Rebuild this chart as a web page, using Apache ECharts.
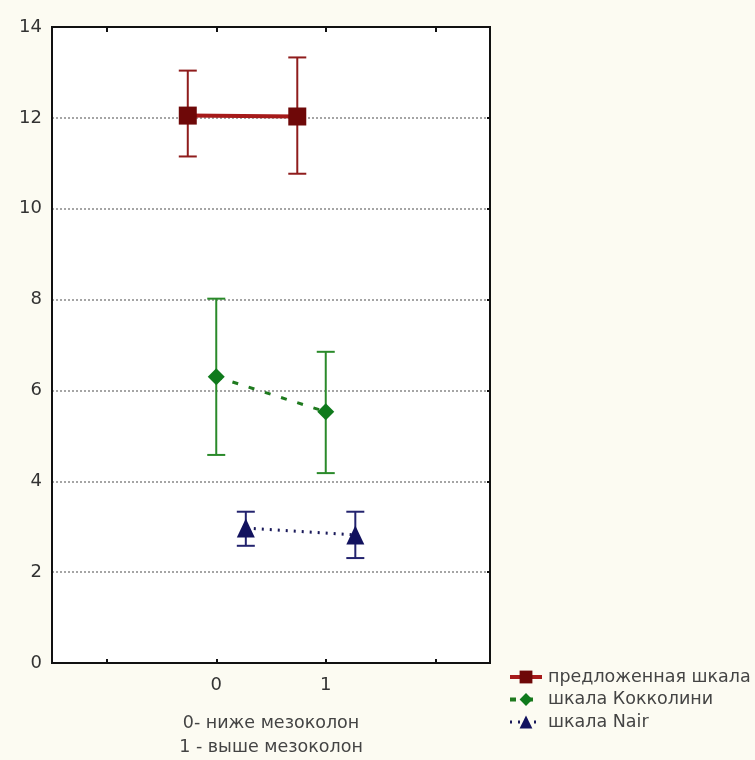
<!DOCTYPE html>
<html lang="ru">
<head>
<meta charset="UTF-8">
<title>шкалы</title>
<script src="https://cdn.jsdelivr.net/npm/echarts@6/dist/echarts.min.js"></script>
<style>
  html, body { margin: 0; padding: 0; background: #fcfbf2; }
  #chart { width: 755px; height: 760px; }
</style>
</head>
<body>
<div id="chart"></div>
<script>
// данные
var seriesNames = ['предложенная шкала', 'шкала Кокколини', 'шкала Nair'];
var xTicks = [-1, 0, 1, 2];
var xLabels = [0, 1];

var redX = [-0.26, 0.74];
var redMean = [12.05, 12.03];
var redLow = [11.15, 10.77];
var redHigh = [13.04, 13.33];

var greenX = [0, 1];
var greenMean = [6.30, 5.53];
var greenLow = [4.58, 4.18];
var greenHigh = [8.02, 6.85];

var blueX = [0.27, 1.27];
var blueMean = [2.97, 2.82];
var blueLow = [2.58, 2.31];
var blueHigh = [3.33, 3.33];

var font = 'DejaVu Sans';

function pts(xs, ys) {
    return xs.map(function (x, i) { return [x, ys[i]]; });
}
function bars(xs, lo, hi) {
    return xs.map(function (x, i) { return [x, lo[i], hi[i]]; });
}

// усы ошибок
function errorSeries(data, color) {
    return {
        type: 'custom',
        z: 1,
        data: data,
        renderItem: function (params, api) {
            var x = api.value(0);
            var top = api.coord([x, api.value(2)]);
            var bot = api.coord([x, api.value(1)]);
            var w = 9;
            var st = { stroke: color, lineWidth: 2 };
            return {
                type: 'group',
                children: [
                    { type: 'line', shape: { x1: top[0], y1: top[1], x2: bot[0], y2: bot[1] }, style: st },
                    { type: 'line', shape: { x1: top[0] - w, y1: top[1], x2: top[0] + w, y2: top[1] }, style: st },
                    { type: 'line', shape: { x1: bot[0] - w, y1: bot[1], x2: bot[0] + w, y2: bot[1] }, style: st }
                ]
            };
        }
    };
}

var myChart = echarts.init(document.getElementById('chart'));

myChart.setOption({
    backgroundColor: '#fcfbf2',
    animation: false,
    textStyle: { fontFamily: font },
    grid: {
        left: 52, right: 265, top: 27, bottom: 97,
        outerBoundsMode: 'none', containLabel: false,
        show: true, backgroundColor: '#ffffff', borderColor: '#111', borderWidth: 2
    },
    legend: {
        orient: 'vertical',
        left: 503, top: 663,
        itemWidth: 32, itemHeight: 16, itemGap: 4.5,
        textStyle: { fontSize: 17.5, color: '#444', fontFamily: font, padding: [0, 0, 0, 1] },
        data: [
            { name: seriesNames[0], lineStyle: { width: 4 } },
            { name: seriesNames[1], lineStyle: { width: 4 } },
            { name: seriesNames[2], lineStyle: { width: 3 } }
        ]
    },
    xAxis: [{
        type: 'value', min: -1.5, max: 2.5,
        position: 'bottom',
        name: '0- ниже мезоколон\n1 - выше мезоколон',
        nameLocation: 'middle', nameGap: 48,
        nameTextStyle: { fontSize: 17.5, color: '#444', lineHeight: 24, fontFamily: font },
        axisLine: { onZero: false, lineStyle: { color: '#111', width: 2 } },
        axisTick: { inside: true, length: 4, customValues: xTicks, lineStyle: { color: '#111', width: 2 } },
        axisLabel: { customValues: xLabels, fontSize: 18, color: '#333', margin: 13 },
        splitLine: { show: false }
    }, {
        type: 'value', min: -1.5, max: 2.5,
        position: 'top',
        axisLine: { onZero: false, lineStyle: { color: '#111', width: 2 } },
        axisTick: { inside: true, length: 5, customValues: xTicks, lineStyle: { color: '#111', width: 2 } },
        axisLabel: { show: false },
        splitLine: { show: false }
    }],
    yAxis: [{
        type: 'value', min: 0, max: 14, interval: 2,
        axisLine: { show: true, onZero: false, lineStyle: { color: '#111', width: 2 } },
        axisTick: { show: false },
        axisLabel: { fontSize: 18, color: '#333', margin: 10 },
        splitLine: { showMinLine: false, showMaxLine: false, lineStyle: { color: '#888', type: [2, 2], width: 1.5 } }
    }, {
        type: 'value', min: 0, max: 14, interval: 2,
        position: 'right',
        axisLine: { show: true, onZero: false, lineStyle: { color: '#111', width: 2 } },
        axisTick: { show: true, inside: true, length: 3, lineStyle: { color: '#111', width: 2 } },
        axisLabel: { show: false },
        splitLine: { show: false }
    }],
    series: [
        errorSeries(bars(redX, redLow, redHigh), '#8f1c1c'),
        errorSeries(bars(greenX, greenLow, greenHigh), '#2a8a2a'),
        errorSeries(bars(blueX, blueLow, blueHigh), '#23236e'),
        {
            name: seriesNames[0], type: 'line', z: 3,
            data: pts(redX, redMean),
            symbol: 'rect', symbolSize: 18,
            itemStyle: { color: '#6e0808' },
            lineStyle: { color: '#a61a1a', width: 4 }
        },
        {
            name: seriesNames[1], type: 'line', z: 3,
            data: pts(greenX, greenMean),
            symbol: 'diamond', symbolSize: [17, 17],
            itemStyle: { color: '#0f7a1c' },
            lineStyle: { color: '#1f7a1f', width: 3, type: [6, 11] }
        },
        {
            name: seriesNames[2], type: 'line', z: 3,
            data: pts(blueX, blueMean),
            symbol: 'triangle', symbolSize: [18, 19],
            itemStyle: { color: '#12125e' },
            lineStyle: { color: '#1a1a5a', width: 3, type: [2, 6] }
        }
    ]
});
</script>
</body>
</html>
